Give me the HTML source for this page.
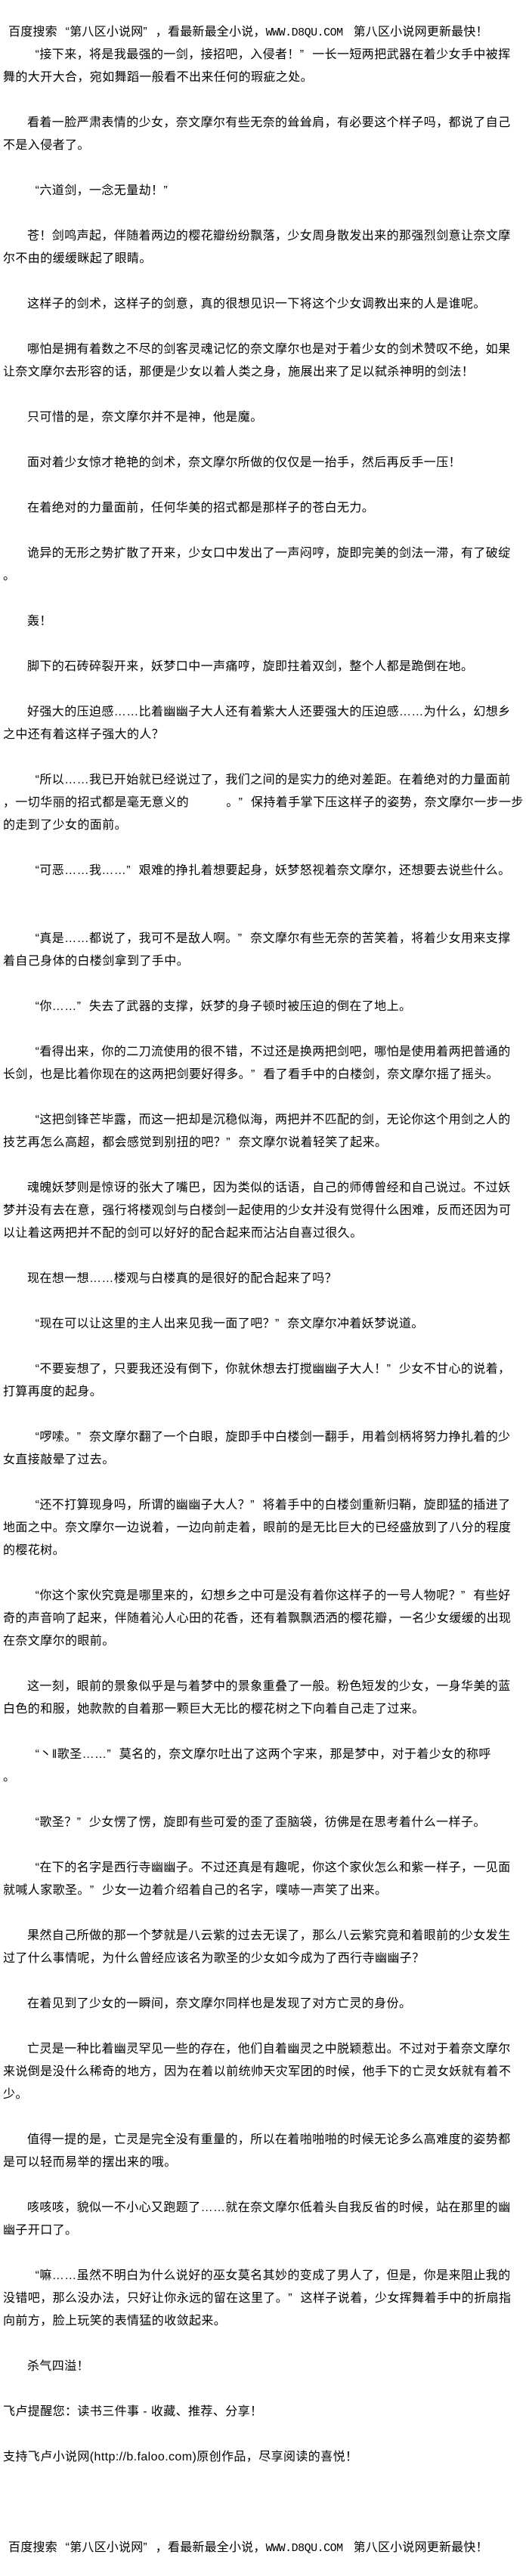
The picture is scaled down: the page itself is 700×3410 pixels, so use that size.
<!DOCTYPE html>
<html><head><meta charset="utf-8">
<style>
html,body{margin:0;padding:0;background:#fff;}
body{width:700px;height:3410px;position:relative;overflow:hidden;
font-family:"Liberation Sans","Noto Sans CJK SC",sans-serif;font-size:16px;color:#000;}
.l{position:absolute;left:4px;height:30px;line-height:30px;white-space:nowrap;letter-spacing:0.4px;}
.i{left:36px;}
.a{display:inline-block;width:16.4px;text-align:right;}
.b{display:inline-block;width:16.4px;text-align:left;}
.h{left:11px;letter-spacing:0.2px;}
.m{font-family:"Liberation Mono",monospace;font-size:15px;letter-spacing:-0.5px;}
</style></head><body>
<div class="l h" style="top:28px">百度搜索<span class="a">“</span>第八区小说网<span class="b">”</span>，看最新最全小说，<span class="m">WWW.D8QU.COM</span>&nbsp;&nbsp;&nbsp;第八区小说网更新最快！</div>
<div class="l i" style="top:58px"><span class="a">“</span>接下来，将是我最强的一剑，接招吧，入侵者！<span class="b">”</span>一长一短两把武器在着少女手中被挥</div>
<div class="l" style="top:88px">舞的大开大合，宛如舞蹈一般看不出来任何的瑕疵之处。</div>
<div class="l i" style="top:148px">看着一脸严肃表情的少女，奈文摩尔有些无奈的耸耸肩，有必要这个样子吗，都说了自己</div>
<div class="l" style="top:178px">不是入侵者了。</div>
<div class="l i" style="top:238px"><span class="a">“</span>六道剑，一念无量劫！<span class="b">”</span></div>
<div class="l i" style="top:298px">苍！剑鸣声起，伴随着两边的樱花瓣纷纷飘落，少女周身散发出来的那强烈剑意让奈文摩</div>
<div class="l" style="top:328px">尔不由的缓缓眯起了眼睛。</div>
<div class="l i" style="top:388px">这样子的剑术，这样子的剑意，真的很想见识一下将这个少女调教出来的人是谁呢。</div>
<div class="l i" style="top:448px">哪怕是拥有着数之不尽的剑客灵魂记忆的奈文摩尔也是对于着少女的剑术赞叹不绝，如果</div>
<div class="l" style="top:478px">让奈文摩尔去形容的话，那便是少女以着人类之身，施展出来了足以弑杀神明的剑法！</div>
<div class="l i" style="top:538px">只可惜的是，奈文摩尔并不是神，他是魔。</div>
<div class="l i" style="top:598px">面对着少女惊才艳艳的剑术，奈文摩尔所做的仅仅是一抬手，然后再反手一压！</div>
<div class="l i" style="top:658px">在着绝对的力量面前，任何华美的招式都是那样子的苍白无力。</div>
<div class="l i" style="top:718px">诡异的无形之势扩散了开来，少女口中发出了一声闷哼，旋即完美的剑法一滞，有了破绽</div>
<div class="l" style="top:748px">。</div>
<div class="l i" style="top:808px">轰！</div>
<div class="l i" style="top:868px">脚下的石砖碎裂开来，妖梦口中一声痛哼，旋即拄着双剑，整个人都是跪倒在地。</div>
<div class="l i" style="top:928px">好强大的压迫感……比着幽幽子大人还有着紫大人还要强大的压迫感……为什么，幻想乡</div>
<div class="l" style="top:958px">之中还有着这样子强大的人？</div>
<div class="l i" style="top:1018px"><span class="a">“</span>所以……我已开始就已经说过了，我们之间的是实力的绝对差距。在着绝对的力量面前</div>
<div class="l" style="top:1048px">，一切华丽的招式都是毫无意义的　　　。<span class="b">”</span>保持着手掌下压这样子的姿势，奈文摩尔一步一步</div>
<div class="l" style="top:1078px">的走到了少女的面前。</div>
<div class="l i" style="top:1138px"><span class="a">“</span>可恶……我……<span class="b">”</span>艰难的挣扎着想要起身，妖梦怒视着奈文摩尔，还想要去说些什么。</div>
<div class="l i" style="top:1228px"><span class="a">“</span>真是……都说了，我可不是敌人啊。<span class="b">”</span>奈文摩尔有些无奈的苦笑着，将着少女用来支撑</div>
<div class="l" style="top:1258px">着自己身体的白楼剑拿到了手中。</div>
<div class="l i" style="top:1318px"><span class="a">“</span>你……<span class="b">”</span>失去了武器的支撑，妖梦的身子顿时被压迫的倒在了地上。</div>
<div class="l i" style="top:1378px"><span class="a">“</span>看得出来，你的二刀流使用的很不错，不过还是换两把剑吧，哪怕是使用着两把普通的</div>
<div class="l" style="top:1408px">长剑，也是比着你现在的这两把剑要好得多。<span class="b">”</span>看了看手中的白楼剑，奈文摩尔摇了摇头。</div>
<div class="l i" style="top:1468px"><span class="a">“</span>这把剑锋芒毕露，而这一把却是沉稳似海，两把并不匹配的剑，无论你这个用剑之人的</div>
<div class="l" style="top:1498px">技艺再怎么高超，都会感觉到别扭的吧？<span class="b">”</span>奈文摩尔说着轻笑了起来。</div>
<div class="l i" style="top:1558px">魂魄妖梦则是惊讶的张大了嘴巴，因为类似的话语，自己的师傅曾经和自己说过。不过妖</div>
<div class="l" style="top:1588px">梦并没有去在意，强行将楼观剑与白楼剑一起使用的少女并没有觉得什么困难，反而还因为可</div>
<div class="l" style="top:1618px">以让着这两把并不配的剑可以好好的配合起来而沾沾自喜过很久。</div>
<div class="l i" style="top:1678px">现在想一想……楼观与白楼真的是很好的配合起来了吗？</div>
<div class="l i" style="top:1738px"><span class="a">“</span>现在可以让这里的主人出来见我一面了吧？<span class="b">”</span>奈文摩尔冲着妖梦说道。</div>
<div class="l i" style="top:1798px"><span class="a">“</span>不要妄想了，只要我还没有倒下，你就休想去打搅幽幽子大人！<span class="b">”</span>少女不甘心的说着，</div>
<div class="l" style="top:1828px">打算再度的起身。</div>
<div class="l i" style="top:1888px"><span class="a">“</span>啰嗦。<span class="b">”</span>奈文摩尔翻了一个白眼，旋即手中白楼剑一翻手，用着剑柄将努力挣扎着的少</div>
<div class="l" style="top:1918px">女直接敲晕了过去。</div>
<div class="l i" style="top:1978px"><span class="a">“</span>还不打算现身吗，所谓的幽幽子大人？<span class="b">”</span>将着手中的白楼剑重新归鞘，旋即猛的插进了</div>
<div class="l" style="top:2008px">地面之中。奈文摩尔一边说着，一边向前走着，眼前的是无比巨大的已经盛放到了八分的程度</div>
<div class="l" style="top:2038px">的樱花树。</div>
<div class="l i" style="top:2098px"><span class="a">“</span>你这个家伙究竟是哪里来的，幻想乡之中可是没有着你这样子的一号人物呢？<span class="b">”</span>有些好</div>
<div class="l" style="top:2128px">奇的声音响了起来，伴随着沁人心田的花香，还有着飘飘洒洒的樱花瓣，一名少女缓缓的出现</div>
<div class="l" style="top:2158px">在奈文摩尔的眼前。</div>
<div class="l i" style="top:2218px">这一刻，眼前的景象似乎是与着梦中的景象重叠了一般。粉色短发的少女，一身华美的蓝</div>
<div class="l" style="top:2248px">白色的和服，她款款的自着那一颗巨大无比的樱花树之下向着自己走了过来。</div>
<div class="l i" style="top:2308px"><span class="a">“</span>丶‖歌圣……<span class="b">”</span>莫名的，奈文摩尔吐出了这两个字来，那是梦中，对于着少女的称呼</div>
<div class="l" style="top:2338px">。</div>
<div class="l i" style="top:2398px"><span class="a">“</span>歌圣？<span class="b">”</span>少女愣了愣，旋即有些可爱的歪了歪脑袋，彷佛是在思考着什么一样子。</div>
<div class="l i" style="top:2458px"><span class="a">“</span>在下的名字是西行寺幽幽子。不过还真是有趣呢，你这个家伙怎么和紫一样子，一见面</div>
<div class="l" style="top:2488px">就喊人家歌圣。<span class="b">”</span>少女一边着介绍着自己的名字，噗哧一声笑了出来。</div>
<div class="l i" style="top:2548px">果然自己所做的那一个梦就是八云紫的过去无误了，那么八云紫究竟和着眼前的少女发生</div>
<div class="l" style="top:2578px">过了什么事情呢，为什么曾经应该名为歌圣的少女如今成为了西行寺幽幽子？</div>
<div class="l i" style="top:2638px">在着见到了少女的一瞬间，奈文摩尔同样也是发现了对方亡灵的身份。</div>
<div class="l i" style="top:2698px">亡灵是一种比着幽灵罕见一些的存在，他们自着幽灵之中脱颖惹出。不过对于着奈文摩尔</div>
<div class="l" style="top:2728px">来说倒是没什么稀奇的地方，因为在着以前统帅天灾军团的时候，他手下的亡灵女妖就有着不</div>
<div class="l" style="top:2758px">少。</div>
<div class="l i" style="top:2818px">值得一提的是，亡灵是完全没有重量的，所以在着啪啪啪的时候无论多么高难度的姿势都</div>
<div class="l" style="top:2848px">是可以轻而易举的摆出来的哦。</div>
<div class="l i" style="top:2908px">咳咳咳，貌似一不小心又跑题了……就在奈文摩尔低着头自我反省的时候，站在那里的幽</div>
<div class="l" style="top:2938px">幽子开口了。</div>
<div class="l i" style="top:2998px"><span class="a">“</span>嘛……虽然不明白为什么说好的巫女莫名其妙的变成了男人了，但是，你是来阻止我的</div>
<div class="l" style="top:3028px">没错吧，那么没办法，只好让你永远的留在这里了。<span class="b">”</span>这样子说着，少女挥舞着手中的折扇指</div>
<div class="l" style="top:3058px">向前方，脸上玩笑的表情猛的收敛起来。</div>
<div class="l i" style="top:3118px">杀气四溢！</div>
<div class="l" style="top:3178px">飞卢提醒您：读书三件事 - 收藏、推荐、分享！</div>
<div class="l" style="top:3238px">支持飞卢小说网(http://b.faloo.com)原创作品，尽享阅读的喜悦！</div>
<div class="l h" style="top:3358px">百度搜索<span class="a">“</span>第八区小说网<span class="b">”</span>，看最新最全小说，<span class="m">WWW.D8QU.COM</span>&nbsp;&nbsp;&nbsp;第八区小说网更新最快！</div>
</body></html>
